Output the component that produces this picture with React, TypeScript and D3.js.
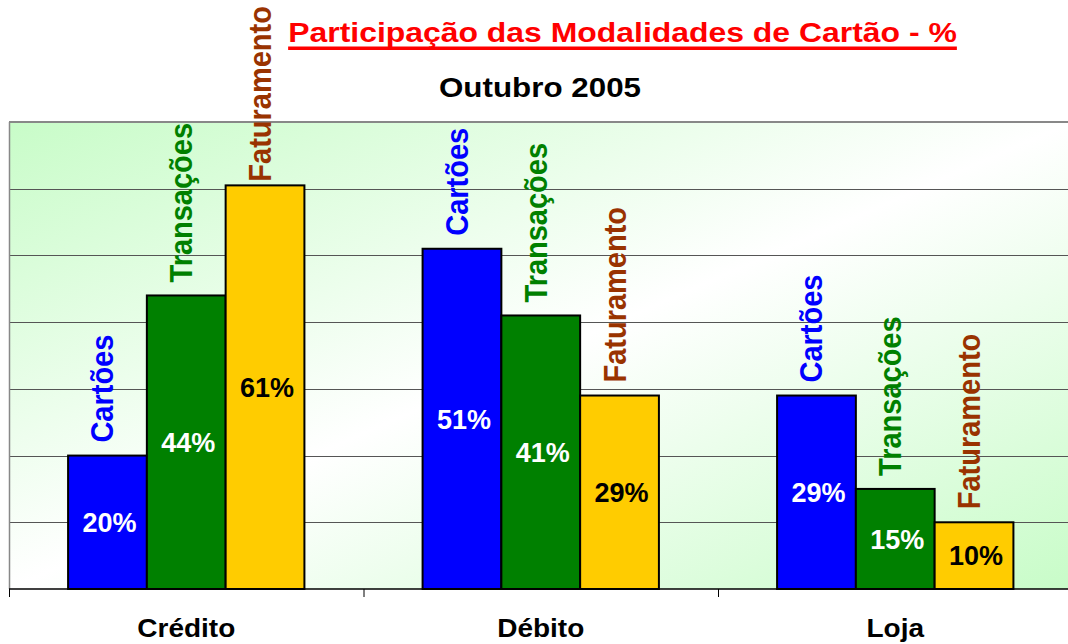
import React from 'react';
import * as d3 from 'd3';

const categories = ['Crédito', 'Débito', 'Loja'];
const seriesNames = ['Cartões', 'Transações', 'Faturamento'];
const cartoes = [20, 51, 29];
const transacoes = [44, 41, 15];
const faturamento = [60.5, 29, 10];
const yTicks = [10, 20, 30, 40, 50, 60, 70];
const titleText = 'Participação das Modalidades de Cartão - %';
const subtitleText = 'Outubro 2005';

const seriesValues = [cartoes, transacoes, faturamento];
const barColors = ['#0000ff', '#008000', '#ffcc00'];
const labelColors = ['#0000ff', '#008000', '#993300'];
const valueColors = ['#ffffff', '#ffffff', '#000000'];

const W = 1068;
const H = 644;
const FONT = "'Liberation Sans', Arial, Helvetica, sans-serif";
const plot = { left: 9, top: 122, bottom: 589, catW: 354.5 };

function measure(text: string, size: number): number {
  try {
    const c = document.createElement('canvas').getContext('2d');
    if (c) {
      c.font = `bold ${size}px ${FONT}`;
      return c.measureText(text).width;
    }
  } catch (e) {}
  return text.length * size * 0.55;
}

export default function App() {
  const x0 = d3
    .scaleBand<string>()
    .domain(categories)
    .range([plot.left, plot.left + plot.catW * categories.length])
    .paddingInner(0)
    .paddingOuter(0);
  const x1 = d3
    .scaleBand<string>()
    .domain(seriesNames)
    .range([0, x0.bandwidth()])
    .paddingInner(0)
    .paddingOuter(0.75);
  const y = d3.scaleLinear().domain([0, 70]).range([plot.bottom, plot.top]);
  const plotRight = plot.left + plot.catW * categories.length;
  const stretch = 1.12;
  const titleStretch = 1.14;
  const labelSize = 29;
  const titleW = measure(titleText, 28) * titleStretch;
  const titleCx = 622.5;

  return (
    <svg
      width={W}
      height={H}
      style={{ position: 'absolute', left: 0, top: 0, background: '#fff' }}
      fontFamily={FONT}
    >
      <defs>
        <linearGradient id="bg" x1="0" y1="0" x2="1" y2="1">
          <stop offset="0" stopColor="#c8fcc8" />
          <stop offset="0.5" stopColor="#ffffff" />
          <stop offset="1" stopColor="#c8fcc8" />
        </linearGradient>
      </defs>
      <rect
        x={plot.left}
        y={plot.top}
        width={plotRight - plot.left}
        height={plot.bottom - plot.top}
        fill="url(#bg)"
      />
      {yTicks.slice(0, -1).map((t) => (
        <line
          key={t}
          x1={plot.left}
          x2={plotRight}
          y1={Math.round(y(t)) + 0.5}
          y2={Math.round(y(t)) + 0.5}
          stroke="#555"
          strokeWidth={1}
        />
      ))}
      <line x1={plot.left} x2={plotRight} y1={plot.top} y2={plot.top} stroke="#888" strokeWidth={2} />
      <line x1={plot.left + 0.5} x2={plot.left + 0.5} y1={plot.top} y2={plot.bottom} stroke="#888" strokeWidth={1.5} />

      {categories.map((cat, ci) =>
        seriesNames.map((s, si) => {
          const v = seriesValues[si][ci];
          const bx = (x0(cat) || 0) + (x1(s) || 0);
          const bw = x1.bandwidth();
          const top = y(v);
          const cx = bx + bw / 2;
          const len = measure(s, labelSize);
          const base = Math.max(top - 13, len + 6);
          const mid = (top + plot.bottom) / 2;
          return (
            <g key={cat + s}>
              <rect x={bx} y={top} width={bw} height={plot.bottom - top} fill={barColors[si]} stroke="#000" strokeWidth={2} />
              <text
                transform={`translate(${cx + 2},${mid + 9.7})`}
                textAnchor="middle"
                fontSize={27}
                fontWeight="bold"
                fill={valueColors[si]}
              >
                {Math.round(v) + '%'}
              </text>
              <text
                transform={`translate(${cx + 6},${base}) scale(1.1,1) rotate(-90)`}
                textAnchor="start"
                fontSize={labelSize}
                fontWeight="bold"
                fill={labelColors[si]}
              >
                {s}
              </text>
            </g>
          );
        })
      )}

      <line x1={plot.left} x2={plotRight} y1={plot.bottom} y2={plot.bottom} stroke="#000" strokeWidth={1.5} />
      {categories.map((cat) => (
        <line
          key={'t' + cat}
          x1={(x0(cat) || 0) + 0.5}
          x2={(x0(cat) || 0) + 0.5}
          y1={plot.bottom}
          y2={plot.bottom + 8}
          stroke="#000"
          strokeWidth={1}
        />
      ))}
      {categories.map((cat) => (
        <text
          key={'c' + cat}
          transform={`translate(${(x0(cat) || 0) + x0.bandwidth() / 2},637) scale(${stretch},1)`}
          textAnchor="middle"
          fontSize={25}
          fontWeight="bold"
          fill="#000"
        >
          {cat}
        </text>
      ))}

      <text
        transform={`translate(${titleCx},42) scale(${titleStretch},1)`}
        textAnchor="middle"
        fontSize={28}
        fontWeight="bold"
        fill="#ff0000"
      >
        {titleText}
      </text>
      <rect x={titleCx - titleW / 2} y={46.5} width={titleW} height={3.5} fill="#ff0000" />
      <text
        transform={`translate(540,97) scale(${stretch},1)`}
        textAnchor="middle"
        fontSize={28}
        fontWeight="bold"
        fill="#000"
      >
        {subtitleText}
      </text>
    </svg>
  );
}
